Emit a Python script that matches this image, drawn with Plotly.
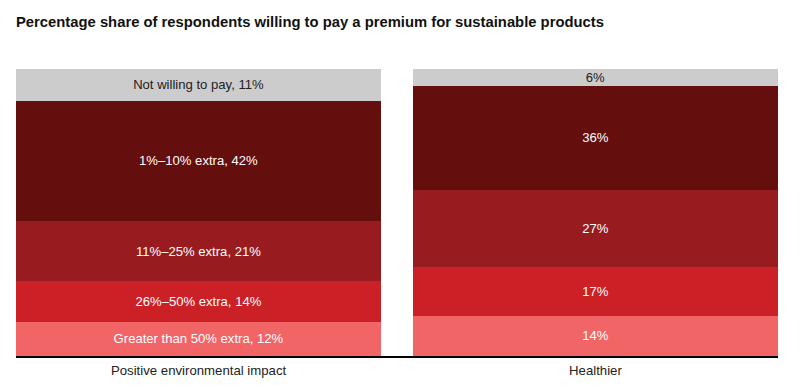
import plotly.graph_objects as go

categories = ["Positive environmental impact", "Healthier"]
segments = ["Greater than 50% extra", "26%–50% extra", "11%–25% extra", "1%–10% extra", "Not willing to pay"]
values = {
    "Greater than 50% extra": [12, 14],
    "26%–50% extra": [14, 17],
    "11%–25% extra": [21, 27],
    "1%–10% extra": [42, 36],
    "Not willing to pay": [11, 6],
}
colors = {
    "Greater than 50% extra": "#f26567",
    "26%–50% extra": "#cc2027",
    "11%–25% extra": "#981c1f",
    "1%–10% extra": "#650e0e",
    "Not willing to pay": "#cccccc",
}

FONT = "Liberation Sans, Arial, sans-serif"

fig = go.Figure()
for seg in segments:
    vals = values[seg]
    texts = [f"{seg}, {vals[0]}%", f"{vals[1]}%"]
    fcol = "#222222" if seg == "Not willing to pay" else "white"
    fig.add_trace(go.Bar(
        x=[0, 1], y=vals, name=seg, text=texts,
        textposition="inside", insidetextanchor="middle",
        textfont=dict(color=fcol, size=13.1, family=FONT),
        marker=dict(color=colors[seg], line=dict(width=0)),
        width=0.92, hoverinfo="skip",
    ))

fig.update_layout(
    barmode="stack",
    width=800, height=390,
    margin=dict(l=8, r=30, t=61, b=42),
    paper_bgcolor="white", plot_bgcolor="white",
    showlegend=False,
    uniformtext=dict(minsize=12, mode="show"),
    title=dict(
        text="<b>Percentage share of respondents willing to pay a premium for sustainable products</b>",
        x=8 / 800, xref="container", xanchor="left", y=1 - 14 / 390, yref="container", yanchor="middle",
        font=dict(size=14.8, color="#111111", family=FONT),
    ),
    font=dict(family=FONT, color="#222222"),
)
fig.update_xaxes(
    range=[-0.46, 1.46], tickvals=[0, 1], ticktext=categories,
    showline=True, linecolor="black", linewidth=2, showgrid=False, zeroline=False,
    ticks="", tickfont=dict(size=13.2, color="#222222"), ticklabelstandoff=1,
)
fig.update_yaxes(range=[0, 100], visible=False, showgrid=False, zeroline=False)

fig.write_html("out.html")
